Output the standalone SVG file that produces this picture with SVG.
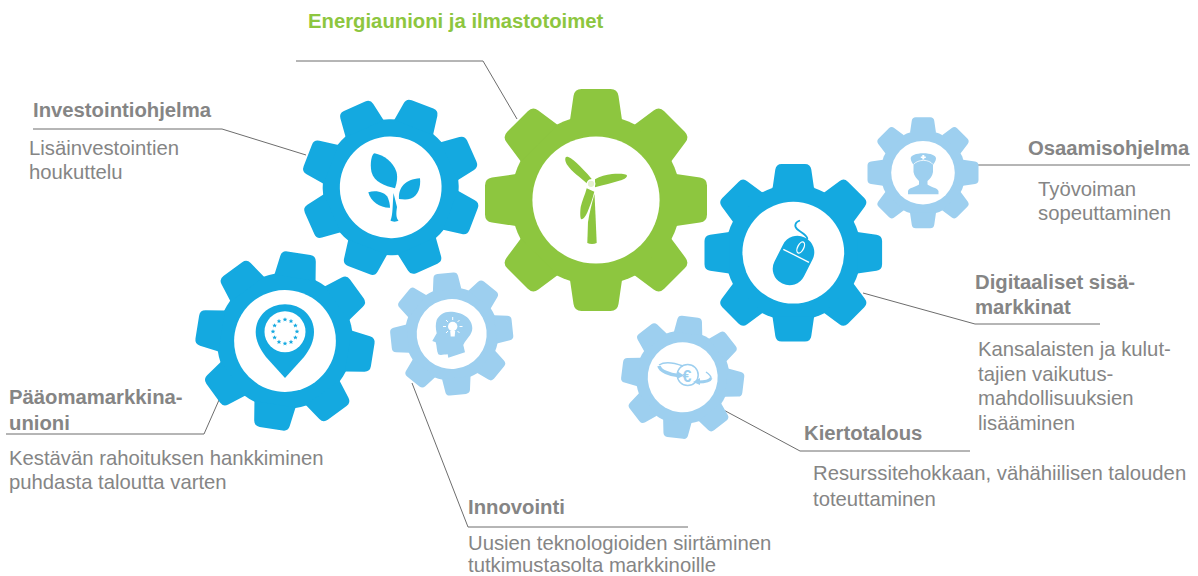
<svg xmlns="http://www.w3.org/2000/svg" xmlns:xlink="http://www.w3.org/1999/xlink" width="1198" height="576" viewBox="0 0 1198 576">
<style>
text{font-family:"Liberation Sans",Arial,sans-serif;font-size:20.3px;fill:#858585;transform:translateY(.7px)}
.b{font-weight:bold}
.g{fill:#8dc63f;font-weight:bold}
.con{fill:none;stroke:#6d6d6d;stroke-width:1}
.blue{fill:#14a9e0}.light{fill:#9dcfef}.green{fill:#8dc63f}
.hole{fill:#fff}
</style>
<defs>
<path id="t" d="M-26,-80L-22.500,-104Q-21.500,-111 -14.500,-111L14.500,-111Q21.500,-111 22.500,-104L26,-80Z"/>
<g id="gear">
<circle r="85"/>
<use xlink:href="#t" href="#t"/>
<use xlink:href="#t" href="#t" transform="rotate(45)"/>
<use xlink:href="#t" href="#t" transform="rotate(90)"/>
<use xlink:href="#t" href="#t" transform="rotate(135)"/>
<use xlink:href="#t" href="#t" transform="rotate(180)"/>
<use xlink:href="#t" href="#t" transform="rotate(225)"/>
<use xlink:href="#t" href="#t" transform="rotate(270)"/>
<use xlink:href="#t" href="#t" transform="rotate(315)"/>
<circle class="hole" r="63.600"/>
</g>
<path id="star" d="M0,-2.300L.7,-.7L2.300,-.7L1.100,.4L1.500,2L0,1.100L-1.500,2L-1.100,.4L-2.300,-.7L-.7,-.7Z"/>
</defs>

<g id="connectors" class="con">
<path class="con" d="M296,61H483L517,119"/>
<path class="con" d="M33,129H222L306,155"/>
<path class="con" d="M975,165H1190"/>
<path class="con" d="M863,293L975,324H1100"/>
<path class="con" d="M718,407L800,451H970"/>
<path class="con" d="M412,383L468,527H688"/>
<path class="con" d="M6,434H204L219,400"/>
</g>

<g id="energia">
<use xlink:href="#gear" href="#gear" class="green" transform="translate(596,200)"/>
<path class="green" d="M591.700,179C586,172 581,167 576.700,163C572,158.500 567,155.500 565.700,157.300C564.500,160 566,163 567.300,165C572,172 580,177 586.700,183.300Z"/>
<path class="green" d="M595,179.300C600,176.500 606,174.500 612,174C618,173.500 627,173.500 627,175.700C627,178 623,179.500 620,180.500C612,183 604,185 595,187.300Z"/>
<path class="green" d="M586.700,188.300C585,195 582,201 580.700,207C580,212 580,219.300 581.500,219.300C584,219.300 586,215 587.500,212C590,206 592.500,199 594.300,191.700Z"/>
<path class="green" d="M594.500,194L595.500,215L596.700,243C594,244.200 590,244.200 587.300,243L588,222C589.500,212 592,203 594.500,194Z"/>
<circle cx="591" cy="183.800" r="3.800" fill="#e3f0cf" stroke="#fff" stroke-width="1.300"/>
<text class="g" x="308" y="27">Energiaunioni ja ilmastotoimet</text>
</g>

<g id="investointi">
<use xlink:href="#gear" href="#gear" class="blue" transform="translate(390.700,187.300) rotate(21) scale(.8)"/>
<path class="blue" d="M395,188.300C385,186 374,182 371.500,172C369.500,163 372,153.300 374.500,153.300C384,155 393,162 396.500,172C398,178 396.500,184 395,188.300Z"/>
<path class="blue" d="M399,199C398,188 405,179 420,178.300C421,187 418,196 411,198.500C407,200 403,199.500 399,199Z"/>
<path class="blue" d="M390,207.700C380,208 371,202 368.300,192.300C376,190 385,192 388,198C389,201 390,204 390,207.700Z"/>
<path class="blue" d="M393.500,193L397,207C396,213 396,218 398.500,220.500C397,222 392,222 390.500,220.500C393,215 392.500,205 393.500,193Z"/>
<text class="b" x="33" y="116">Investointiohjelma</text>
<text x="29" y="154">Lisäinvestointien</text>
<text x="29" y="178">houkuttelu</text>
</g>

<g id="paaoma">
<use xlink:href="#gear" href="#gear" class="blue" transform="translate(285,341) rotate(9) scale(.8)"/>
<path class="blue" d="M285,304.300C269,304.300 255.700,316 255.700,332C255.700,341 260,349 266,357L285,378L304,357C310,349 314,341 314,332C314,316 301,304.300 285,304.300Z"/>
<circle class="hole" cx="285" cy="331.700" r="20.500"/>
<g class="blue">
<use xlink:href="#star" href="#star" transform="translate(285,319.500)"/>
<use xlink:href="#star" href="#star" transform="translate(291,321.100)"/>
<use xlink:href="#star" href="#star" transform="translate(295.400,325.500)"/>
<use xlink:href="#star" href="#star" transform="translate(297,331.500)"/>
<use xlink:href="#star" href="#star" transform="translate(295.400,337.500)"/>
<use xlink:href="#star" href="#star" transform="translate(291,341.900)"/>
<use xlink:href="#star" href="#star" transform="translate(285,343.500)"/>
<use xlink:href="#star" href="#star" transform="translate(279,341.900)"/>
<use xlink:href="#star" href="#star" transform="translate(274.600,337.500)"/>
<use xlink:href="#star" href="#star" transform="translate(273,331.500)"/>
<use xlink:href="#star" href="#star" transform="translate(274.600,325.500)"/>
<use xlink:href="#star" href="#star" transform="translate(279,321.100)"/>
</g>
<text class="b" x="9" y="403">Pääomamarkkina-</text>
<text class="b" x="9" y="429">unioni</text>
<text x="9" y="464">Kestävän rahoituksen hankkiminen</text>
<text x="9" y="488">puhdasta taloutta varten</text>
</g>

<g id="innovointi">
<use xlink:href="#gear" href="#gear" class="light" transform="translate(451.700,334) rotate(-6) scale(.55)"/>
<path class="light" d="M450,311.700C462,311.700 472.300,318 472.300,328.300C472.300,335 466,339 463.300,345L465,352.300L448.300,357.700L447.700,354.300C444,354.500 440,355.500 438.300,354.300C436.500,351 437,346 435.700,342.300L432.300,341L436.700,333.300C435.500,328 435.500,324 436.700,320C439,315 444,311.700 450,311.700Z"/>
<circle class="hole" cx="452.700" cy="326.500" r="4.700"/>
<path class="hole" d="M450.200,331H455.200L454.700,336.500H450.700Z"/>
<path fill="none" stroke="#fff" stroke-width="1" d="M452.700,317V320M443,326.500H446M459.500,326.500H462.500M446,320L448,322M459.500,320L457.500,322M446,333L448,331M459.500,333L457.500,331"/>
<text class="b" x="468" y="513">Innovointi</text>
<text x="468" y="549">Uusien teknologioiden siirtäminen</text>
<text x="468" y="571">tutkimustasolta markkinoille</text>
</g>

<g id="kierto">
<use xlink:href="#gear" href="#gear" class="light" transform="translate(682.700,377.300) rotate(7) scale(.55)"/>
<circle cx="687.700" cy="375" r="10.500" fill="none" stroke="#9dcfef" stroke-width="1.500"/>
<path fill="none" stroke="#9dcfef" stroke-width="3.500" d="M659,366C660,371 670,375 678,375.500"/>
<path fill="none" stroke="#9dcfef" stroke-width="1.500" d="M659,365C665,361 675,363 683,366"/>
<path class="light" d="M677,371L684,375.500L677,379Z"/>
<path fill="none" stroke="#9dcfef" stroke-width="3" d="M698,382C703,382 710,381 711,378"/>
<path fill="none" stroke="#9dcfef" stroke-width="1.500" d="M706,372C709,374 711,376 711,378"/>
<path class="light" d="M700,378L693,382L700,385Z"/>
<text x="682.500" y="381" style="font-size:16px;font-weight:bold;fill:#9dcfef">€</text>
<text class="b" x="804" y="439">Kiertotalous</text>
<text x="813" y="479">Resurssitehokkaan, vähähiilisen talouden</text>
<text x="813" y="505">toteuttaminen</text>
</g>

<g id="digitaaliset">
<use xlink:href="#gear" href="#gear" class="blue" transform="translate(793.300,252.700) scale(.8)"/>
<rect class="blue" x="-16.500" y="-25.500" width="33" height="51" rx="16" transform="translate(793.500,260.500) rotate(27)"/>
<path fill="none" stroke="#14a9e0" stroke-width="1.800" d="M800,220.500C795,222 794,226 797,229C800,232 806,234 807.300,238.300C807,240 805,241 804,241.700"/>
<ellipse cx="800.700" cy="247.500" rx="3" ry="6" class="blue" stroke="#fff" stroke-width="1.300" transform="rotate(27 800.700 247.500)"/>
<path stroke="#fff" stroke-width="1.300" d="M783.300,249.300L809,262.300"/>
<text class="b" x="975" y="288">Digitaaliset sisä-</text>
<text class="b" x="975" y="313">markkinat</text>
<text x="978" y="355">Kansalaisten ja kulut-</text>
<text x="978" y="380">tajien vaikutus-</text>
<text x="978" y="404">mahdollisuuksien</text>
<text x="978" y="429">lisääminen</text>
</g>

<g id="osaaminen">
<use xlink:href="#gear" href="#gear" class="light" transform="translate(923,172.700) scale(.5)"/>
<path class="light" d="M923.300,153.300C916,153.300 910.700,155.500 910.700,158.500C910.700,161 912.500,163 913.500,165L913.500,172C914,176 917,179 919,181V184.500C916,187 909,187.500 908,191V194.300H938.500V191C937,187.500 930,187 927.500,184.500V181C930,179 932.500,176 933,172L933,165C934,163 936,161 936,158.500C936,155.500 930.500,153.300 923.300,153.300Z"/>
<path fill="none" stroke="#fff" stroke-width=".8" d="M913.500,164.500C918,159 929,159 933,164.500"/>
<path class="hole" d="M922.300,155H924.300V156.500H925.800V158H924.300V159.500H922.300V158H920.800V156.500H922.300Z"/>
<text class="b" x="1028" y="154">Osaamisohjelma</text>
<text x="1038" y="195">Työvoiman</text>
<text x="1038" y="219">sopeuttaminen</text>
</g>
</svg>
